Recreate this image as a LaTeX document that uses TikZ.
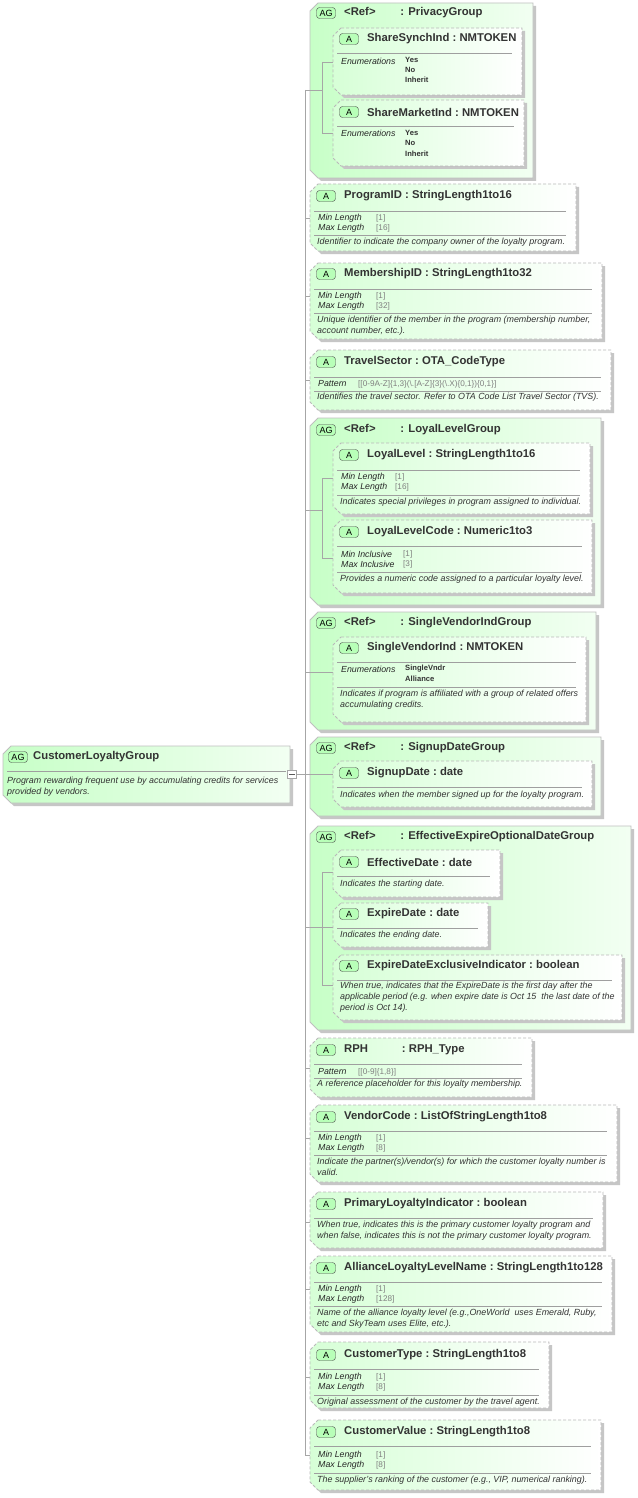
\documentclass[tikz,border=0pt]{standalone}
\usepackage{fontspec}
\setmainfont{Liberation Sans}
\usetikzlibrary{shadings}
\newcounter{nn}
\tikzset{
  badge/.style={draw=gray!60!black,fill=green!28,rounded corners=3pt,font=\fontsize{9}{10}\selectfont,minimum width=19pt,minimum height=11pt,inner sep=0pt},
  ttlf/.style={anchor=west,inner sep=0pt,font=\fontsize{11.3}{13}\selectfont\bfseries,text=black!80},
  keyf/.style={anchor=west,inner sep=0pt,font=\fontsize{8.8}{10}\selectfont\itshape,text=black!85},
  valf/.style={anchor=west,inner sep=0pt,font=\fontsize{8.2}{10}\selectfont,text=gray},
  enumf/.style={anchor=west,inner sep=0pt,font=\fontsize{7.6}{9}\selectfont\bfseries,text=black!80},
  descf/.style={anchor=north west,inner sep=0pt,align=left,font=\fontsize{8.9}{11}\selectfont\itshape,text=black!80},
  conn/.style={draw=gray!70,line width=0.6pt},
  sepl/.style={draw=gray!75,line width=0.6pt},
  attrb/.style={draw=gray!55,dashed,dash pattern=on 3pt off 2pt,line width=0.8pt,left color=green!16,right color=white},
  grpb/.style={draw=gray!50,line width=0.8pt,left color=green!22,right color=green!5},
}
\newcommand\bx[5]{%
  \fill[gray!45] (#1+11,#2+3) -- (#3+3,#2+3) -- (#3+3,#4+3) -- (#1+11,#4+3) -- (#1+3,#4-5) -- (#1+3,#2+11) -- cycle;
  \path[#5] (#1+8,#2) -- (#3,#2) -- (#3,#4) -- (#1+8,#4) -- (#1,#4-8) -- (#1,#2+8) -- cycle;}
\newcommand\ttl[4]{\stepcounter{nn}%
  \node[badge] (b\thenn) at (#1+16,#2) {#3};
  \node[ttlf] (t\thenn) at (#1+34,#2) {#4};}
\newcommand\sep[3]{\draw[sepl] (#1+4,#3) -- (#2-10,#3);}
\newcommand\kv[5]{\stepcounter{nn}%
  \node[keyf] (k\thenn) at (#1+8,#2) {#3};
  \node[valf] (v\thenn) at (#1+#4,#2) {#5};}
\newcommand\en[3]{\stepcounter{nn}\node[enumf] (e\thenn) at (#1,#2) {#3};}
\newcommand\ds[3]{\stepcounter{nn}\node[descf] (d\thenn) at (#1+7,#2) {#3};}
\newcommand\cl{\ :\ }
\begin{document}
\begin{tikzpicture}[x=1pt,y=-1pt]
\useasboundingbox (0,0) rectangle (637,1498);
\fill[white] (0,0) rectangle (637,1498);
% main
\bx{3}{746}{290}{803}{grpb}
\node[badge] (mainb) at (18,757) {AG};
\node[ttlf] (maint) at (33,757) {CustomerLoyaltyGroup};
\draw[sepl] (7,771) -- (286,771);
\node[descf] (maind) at (7,777) {Program rewarding frequent use by accumulating credits for services\\provided by vendors.};
\node[draw=gray!70,fill=white,minimum width=9pt,minimum height=8pt,inner sep=0pt] (exp) at (292,774) {};
\draw[gray!70!black,line width=0.6pt] (289,774) -- (295,774);
\coordinate (trtop) at (305,90);
\coordinate (trbot) at (305,1455);
\coordinate (trmid) at (305,774);
\draw[conn] (exp.east) -- (trmid);
\draw[conn] (trtop) -- (trbot);
% 1 PrivacyGroup
\bx{310}{3}{533}{178}{grpb}
\ttl{310}{13}{AG}{<Ref>\hspace{2.2em}: PrivacyGroup}
\draw[conn] (trtop) -- (322,90);
\draw[conn] (322,62) -- (322,133);
\draw[conn] (322,62) -- (333,62); \draw[conn] (322,133) -- (333,133);
\bx{333}{28}{522}{95}{attrb}
\ttl{333}{39}{A}{ShareSynchInd\cl NMTOKEN}
\sep{333}{522}{53}
\kv{333}{61}{Enumerations}{72}{}
\en{405}{60}{Yes}\en{405}{70}{No}\en{405}{80}{Inherit}
\bx{333}{100}{524}{166}{attrb}
\ttl{333}{112}{A}{ShareMarketInd\cl NMTOKEN}
\sep{333}{524}{126}
\kv{333}{133}{Enumerations}{72}{}
\en{405}{133}{Yes}\en{405}{143}{No}\en{405}{154}{Inherit}
% 2 ProgramID
\draw[conn] (305,218) -- (310,218);
\bx{310}{184}{576}{251}{attrb}
\ttl{310}{196}{A}{ProgramID\cl StringLength1to16}
\sep{310}{576}{211}
\kv{310}{218}{Min Length}{66}{[1]}
\kv{310}{228}{Max Length}{66}{[16]}
\sep{310}{576}{235}
\ds{310}{238}{Identifier to indicate the company owner of the loyalty program.}
% 3 MembershipID
\draw[conn] (305,296) -- (310,296);
\bx{310}{263}{602}{339}{attrb}
\ttl{310}{274}{A}{MembershipID\cl StringLength1to32}
\sep{310}{602}{289}
\kv{310}{296}{Min Length}{66}{[1]}
\kv{310}{306}{Max Length}{66}{[32]}
\sep{310}{602}{313}
\ds{310}{316}{Unique identifier of the member in the program (membership number,\\account number, etc.).}
% 4 TravelSector
\draw[conn] (305,380) -- (310,380);
\bx{310}{350}{611}{410}{attrb}
\ttl{310}{362}{A}{TravelSector\cl OTA\_CodeType}
\sep{310}{611}{377}
\kv{310}{384}{Pattern}{48}{[[0-9A-Z]\{1,3\}(\textbackslash.[A-Z]\{3\}(\textbackslash.X)\{0,1\})\{0,1\}]}
\sep{310}{611}{391}
\ds{310}{393}{Identifies the travel sector. Refer to OTA Code List Travel Sector (TVS).}
% 5 LoyalLevelGroup
\draw[conn] (305,510) -- (310,510);
\bx{310}{418}{601}{605}{grpb}
\ttl{310}{430}{AG}{<Ref>\hspace{2.2em}: LoyalLevelGroup}
\draw[conn] (310,510) -- (322,510);
\draw[conn] (322,478) -- (322,558);
\draw[conn] (322,478) -- (333,478); \draw[conn] (322,558) -- (333,558);
\bx{333}{443}{590}{514}{attrb}
\ttl{333}{455}{A}{LoyalLevel\cl StringLength1to16}
\sep{333}{590}{470}
\kv{333}{477}{Min Length}{62}{[1]}
\kv{333}{487}{Max Length}{62}{[16]}
\sep{333}{590}{495}
\ds{333}{498}{Indicates special privileges in program assigned to individual.}
\bx{333}{520}{592}{593}{attrb}
\ttl{333}{532}{A}{LoyalLevelCode\cl Numeric1to3}
\sep{333}{592}{546}
\kv{333}{554}{Min Inclusive}{70}{[1]}
\kv{333}{564}{Max Inclusive}{70}{[3]}
\sep{333}{592}{572}
\ds{333}{575}{Provides a numeric code assigned to a particular loyalty level.}
% 6 SingleVendorIndGroup
\bx{310}{612}{596}{730}{grpb}
\ttl{310}{623}{AG}{<Ref>\hspace{2.2em}: SingleVendorIndGroup}
\draw[conn] (305,672) -- (333,672);
\bx{333}{637}{586}{722}{attrb}
\ttl{333}{648}{A}{SingleVendorInd\cl NMTOKEN}
\sep{333}{586}{662}
\kv{333}{669}{Enumerations}{72}{}
\en{405}{669}{SingleVndr}\en{405}{679}{Alliance}
\sep{333}{586}{687}
\ds{333}{690}{Indicates if program is affiliated with a group of related offers\\accumulating credits.}
% 7 SignupDateGroup
\bx{310}{737}{601}{816}{grpb}
\ttl{310}{748}{AG}{<Ref>\hspace{2.2em}: SignupDateGroup}
\draw[conn] (305,774) -- (333,774);
\bx{333}{761}{592}{807}{attrb}
\ttl{333}{773}{A}{SignupDate\cl date}
\sep{333}{592}{787}
\ds{333}{791}{Indicates when the member signed up for the loyalty program.}
% 8 EffectiveExpireOptionalDateGroup
\draw[conn] (305,927) -- (310,927);
\bx{310}{826}{631}{1030}{grpb}
\ttl{310}{837}{AG}{<Ref>\hspace{2.2em}: EffectiveExpireOptionalDateGroup}
\draw[conn] (310,927) -- (322,927);
\draw[conn] (322,872) -- (322,985);
\draw[conn] (322,872) -- (333,872); \draw[conn] (322,927) -- (333,927); \draw[conn] (322,985) -- (333,985);
\bx{333}{850}{500}{897}{attrb}
\ttl{333}{862}{A}{EffectiveDate\cl date}
\sep{333}{500}{876}
\ds{333}{880}{Indicates the starting date.}
\bx{333}{903}{488}{947}{attrb}
\ttl{333}{914}{A}{ExpireDate\cl date}
\sep{333}{488}{928}
\ds{333}{931}{Indicates the ending date.}
\bx{333}{955}{622}{1020}{attrb}
\ttl{333}{966}{A}{ExpireDateExclusiveIndicator\cl boolean}
\sep{333}{622}{980}
\ds{333}{982}{When true, indicates that the ExpireDate is the first day after the\\applicable period (e.g. when expire date is Oct 15\ \ the last date of the\\period is Oct 14).}
% 9 RPH
\draw[conn] (305,1068) -- (310,1068);
\bx{310}{1038}{532}{1097}{attrb}
\ttl{310}{1050}{A}{RPH\hspace{3em}: RPH\_Type}
\sep{310}{532}{1064}
\kv{310}{1072}{Pattern}{48}{[[0-9]\{1,8\}]}
\sep{310}{532}{1078}
\ds{310}{1080}{A reference placeholder for this loyalty membership.}
% 10 VendorCode
\draw[conn] (305,1138) -- (310,1138);
\bx{310}{1105}{617}{1182}{attrb}
\ttl{310}{1117}{A}{VendorCode\cl ListOfStringLength1to8}
\sep{310}{617}{1131}
\kv{310}{1138}{Min Length}{66}{[1]}
\kv{310}{1148}{Max Length}{66}{[8]}
\sep{310}{617}{1155}
\ds{310}{1158}{Indicate the partner(s)/vendor(s) for which the customer loyalty number is\\valid.}
% 11 PrimaryLoyaltyIndicator
\draw[conn] (305,1222) -- (310,1222);
\bx{310}{1192}{603}{1248}{attrb}
\ttl{310}{1204}{A}{PrimaryLoyaltyIndicator\cl boolean}
\sep{310}{603}{1218}
\ds{310}{1221}{When true, indicates this is the primary customer loyalty program and\\when false, indicates this is not the primary customer loyalty program.}
% 12 AllianceLoyaltyLevelName
\draw[conn] (305,1289) -- (310,1289);
\bx{310}{1256}{612}{1332}{attrb}
\ttl{310}{1268}{A}{AllianceLoyaltyLevelName\cl StringLength1to128}
\sep{310}{612}{1282}
\kv{310}{1289}{Min Length}{66}{[1]}
\kv{310}{1299}{Max Length}{66}{[128]}
\sep{310}{612}{1306}
\ds{310}{1309}{Name of the alliance loyalty level (e.g.,OneWorld\ \ uses Emerald, Ruby,\\etc and SkyTeam uses Elite, etc.).}
% 13 CustomerType
\draw[conn] (305,1377) -- (310,1377);
\bx{310}{1342}{549}{1408}{attrb}
\ttl{310}{1355}{A}{CustomerType\cl StringLength1to8}
\sep{310}{549}{1369}
\kv{310}{1377}{Min Length}{66}{[1]}
\kv{310}{1387}{Max Length}{66}{[8]}
\sep{310}{549}{1395}
\ds{310}{1398}{Original assessment of the customer by the travel agent.}
% 14 CustomerValue
\draw[conn] (305,1455) -- (310,1455);
\bx{310}{1420}{601}{1490}{attrb}
\ttl{310}{1432}{A}{CustomerValue\cl StringLength1to8}
\sep{310}{601}{1446}
\kv{310}{1455}{Min Length}{66}{[1]}
\kv{310}{1465}{Max Length}{66}{[8]}
\sep{310}{601}{1473}
\ds{310}{1476}{The supplier's ranking of the customer (e.g., VIP, numerical ranking).}
\end{tikzpicture}
\end{document}
